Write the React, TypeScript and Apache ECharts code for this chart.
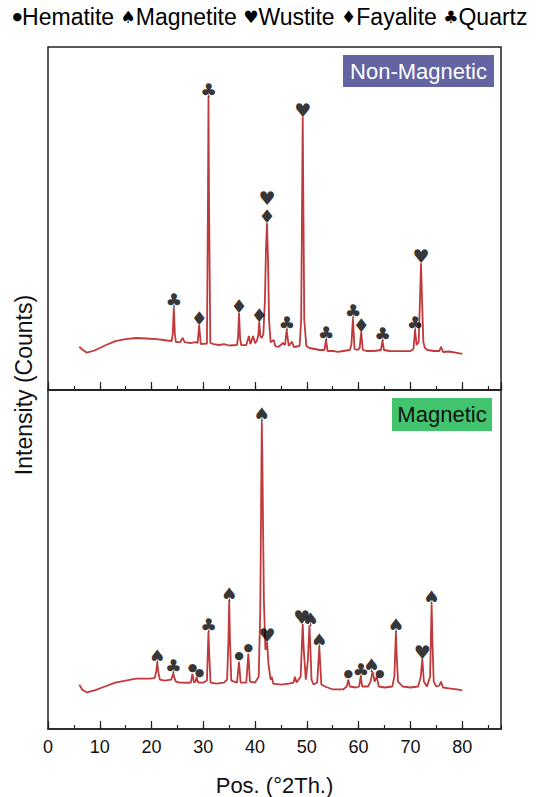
import React, { useEffect, useRef } from "react";
import * as echarts from "echarts";

// 2θ positions of major x ticks
const xTickValues = [0, 10, 20, 30, 40, 50, 60, 70, 80];

// Non-magnetic fraction trace: [2θ, counts]
const nonMagneticTrace: [number, number][] = [
  [6.05, 433], [6.5, 410], [7.5, 373], [9, 395], [11, 445], [13, 488], [15, 508], [17, 520], [19, 515], [21, 508],
  [23, 495], [23.9, 490], [24.1, 560], [24.3, 827], [24.5, 560], [24.7, 480], [25.5, 478], [26.0, 520], [26.4, 478],
  [27.5, 468], [28.5, 478], [28.9, 470], [29.2, 650], [29.5, 460], [30.0, 462], [30.7, 465], [30.9, 1900], [31.0, 2933],
  [31.1, 1900], [31.35, 470], [32, 458], [33, 450], [34, 458], [35, 445], [36.5, 450], [36.7, 520], [36.9, 770],
  [37.1, 520], [37.3, 450], [38.3, 448], [38.8, 540], [39.1, 458], [39.6, 540], [40.0, 468], [40.4, 500], [40.65, 560],
  [40.8, 683], [41.0, 540], [41.3, 520], [41.6, 560], [41.9, 900], [42.1, 1400], [42.3, 1667], [42.5, 1300], [42.7, 700],
  [43.0, 478], [43.6, 500], [43.9, 440], [44.5, 430], [45.4, 470], [45.8, 450], [46.1, 600], [46.5, 440], [47.1, 483],
  [47.5, 430], [48.6, 440], [48.9, 700], [49.05, 1700], [49.2, 2733], [49.35, 1700], [49.5, 700], [49.9, 440],
  [50.5, 420], [51.5, 410], [52.5, 400], [53.4, 400], [53.7, 500], [54.0, 390], [55, 392], [56, 382], [57, 390],
  [58.3, 400], [58.6, 450], [58.9, 717], [59.2, 410], [59.8, 400], [60.2, 420], [60.5, 583], [60.8, 400], [61.5, 390],
  [63, 390], [64.3, 400], [64.6, 490], [64.9, 400], [66, 390], [68, 388], [70, 390], [70.6, 410], [70.9, 600],
  [71.2, 450], [71.6, 480], [71.85, 900], [72.05, 1267], [72.25, 900], [72.5, 480], [72.8, 420], [73.3, 400],
  [74.5, 390], [75.6, 390], [75.9, 433], [76.3, 380], [77.5, 385], [79, 372], [80, 362],
];

// Magnetic fraction trace: [2θ, counts]
const magneticTrace: [number, number][] = [
  [6.05, 447], [6.6, 400], [7.5, 370], [9, 390], [11, 430], [13, 470], [15, 490], [17, 510], [19.7, 510], [20.6, 515],
  [20.9, 580], [21.1, 670], [21.3, 580], [21.6, 500], [22.5, 490], [23.8, 500], [24.0, 530], [24.2, 563], [24.4, 520],
  [24.7, 480], [25.5, 470], [27, 468], [27.6, 470], [27.9, 557], [28.2, 470], [28.5, 480], [28.7, 530], [29.0, 470],
  [30.0, 470], [30.7, 490], [30.85, 750], [31.0, 980], [31.15, 750], [31.4, 470], [32.5, 460], [34, 470], [34.6, 500],
  [34.85, 900], [35.0, 1297], [35.15, 900], [35.4, 490], [36.5, 470], [36.9, 680], [37.2, 470], [38.3, 470],
  [38.7, 763], [39.0, 480], [40.0, 470], [40.7, 530], [41.0, 1200], [41.2, 2500], [41.3, 3113], [41.45, 2500],
  [41.7, 1300], [42.0, 800], [42.3, 880], [42.6, 650], [43.0, 500], [43.2, 530], [43.5, 460], [45, 450], [46.5, 460],
  [47.4, 470], [47.7, 530], [48.0, 470], [48.8, 530], [49.0, 800], [49.2, 1063], [49.4, 800], [49.8, 500], [50.2, 700],
  [50.5, 1047], [50.7, 800], [50.9, 500], [51.3, 450], [52.0, 470], [52.4, 830], [52.8, 450], [53.5, 430], [55, 400],
  [57, 400], [57.7, 430], [58.0, 500], [58.3, 430], [59.5, 420], [60.1, 430], [60.4, 530], [60.7, 430], [61.8, 430],
  [62.3, 480], [62.7, 580], [63.1, 480], [63.5, 530], [63.9, 430], [65, 420], [66.5, 430], [66.9, 530], [67.05, 750],
  [67.2, 980], [67.35, 750], [67.6, 480], [68.5, 430], [70, 420], [71.5, 430], [72.0, 530], [72.3, 713], [72.6, 480],
  [73.2, 430], [73.8, 530], [73.95, 900], [74.1, 1263], [74.25, 900], [74.5, 480], [75.0, 430], [75.6, 440],
  [75.9, 480], [76.3, 420], [77.5, 410], [79, 400], [80, 390],
];

// Phase markers: [2θ, peak counts, glyph]
const nonMagneticPeaks: [number, number, string][] = [
  [24.3, 827, "♣"], [29.2, 650, "♦"], [31.0, 2933, "♣"], [36.9, 770, "♦"], [40.8, 683, "♦"], [42.3, 1667, "♦"],
  [42.3, 1667, "♥"], [46.1, 600, "♣"], [49.2, 2733, "♥"], [53.7, 500, "♣"], [58.9, 717, "♣"], [60.5, 583, "♦"],
  [64.6, 490, "♣"], [70.9, 600, "♣"], [72.05, 1267, "♥"],
];
const magneticPeaks: [number, number, string][] = [
  [21.1, 670, "♠"], [24.2, 563, "♣"], [27.9, 557, "●"], [28.7, 530, "●"], [31.0, 980, "♣"], [35.0, 1297, "♠"],
  [36.9, 680, "●"], [38.7, 763, "●"], [41.3, 3113, "♠"], [42.3, 880, "♥"], [49.2, 1063, "♥"], [50.5, 1047, "♠"],
  [52.4, 830, "♠"], [58.0, 500, "●"], [60.4, 530, "♣"], [62.7, 580, "♠"], [63.5, 530, "●"], [67.2, 980, "♠"],
  [72.3, 713, "♥"], [74.1, 1263, "♠"],
];

const legendEntries = [
  ["●", "Hematite"],
  ["♠", "Magnetite"],
  ["♥", "Wustite"],
  ["♦", "Fayalite"],
  ["♣", "Quartz"],
];

const panelTitles = ["Non-Magnetic", "Magnetic"];

const LINE_COLOR = "#c0393b";
const SANS = "'Liberation Sans', Arial, sans-serif";
const GLYPH_FONT = "'DejaVu Sans', sans-serif";

function markerSeries(peaks: [number, number, string][], panel: number, offsets: Record<number, number[]>) {
  return {
    type: "scatter",
    xAxisIndex: panel * 2,
    yAxisIndex: panel,
    symbol: "circle",
    symbolSize: 1,
    itemStyle: { color: "rgba(0,0,0,0)" },
    silent: true,
    z: 5,
    data: peaks.map((p, i) => {
      const g = p[2];
      const dot = g === "●";
      return {
        value: [p[0], p[1]],
        label: {
          show: true,
          position: "top",
          distance: dot ? 0 : -3,
          formatter: g,
          fontFamily: GLYPH_FONT,
          fontSize: dot ? 11 : 19,
          color: "#000",
          offset: offsets[i] || [0, 0],
        },
      };
    }),
  };
}

export default function App() {
  const ref = useRef<HTMLDivElement>(null);
  useEffect(() => {
    document.body.style.margin = "0";
    if (!ref.current) return;
    const chart = echarts.init(ref.current, undefined, { renderer: "svg" });

    const xMax = 87.5;
    const grids = [
      { left: 48, right: 39, top: 47, height: 343 },
      { left: 48, right: 39, top: 390, height: 343 },
    ];
    const makeX = (gi: number, major: boolean, labels: boolean) => ({
      type: "value",
      gridIndex: gi,
      position: "bottom",
      min: 0,
      max: xMax,
      interval: major ? 10 : 5,
      axisLine: { show: major, onZero: false, lineStyle: { color: "#222", width: 1.5 } },
      axisTick: { show: true, inside: true, length: major ? 8 : 4, lineStyle: { color: "#222", width: 1.2 } },
      axisLabel: {
        show: labels,
        showMaxLabel: false,
        margin: 9,
        fontSize: 18,
        color: "#111",
        fontFamily: SANS,
      },
      splitLine: { show: false },
      ...(labels
        ? {
            name: "Pos. (°2Th.)",
            nameLocation: "middle",
            nameGap: 45,
            nameTextStyle: { fontSize: 22, color: "#111", fontFamily: SANS },
          }
        : {}),
    });

    const legendText = legendEntries
      .map(([g, t]) => `{${g === "●" ? "d" : "g"}|${g}}{t|${t}}`)
      .join("{t| }");

    const option: any = {
      animation: false,
      backgroundColor: "#fff",
      grid: grids.map((g) => ({ ...g, show: true, borderColor: "#222", borderWidth: 1.5, backgroundColor: "transparent" })),
      xAxis: [makeX(0, true, false), makeX(0, false, false), makeX(1, true, true), makeX(1, false, false)],
      yAxis: [0, 1].map((gi) => ({ type: "value", gridIndex: gi, min: 0, max: 3430, show: false })),
      series: [
        {
          type: "line",
          xAxisIndex: 0,
          yAxisIndex: 0,
          data: nonMagneticTrace,
          symbol: "none",
          lineStyle: { color: LINE_COLOR, width: 1.8 },
          z: 3,
        },
        {
          type: "line",
          xAxisIndex: 2,
          yAxisIndex: 1,
          data: magneticTrace,
          symbol: "none",
          lineStyle: { color: LINE_COLOR, width: 1.8 },
          z: 3,
        },
        markerSeries(nonMagneticPeaks, 0, { 6: [0, -18] }),
        markerSeries(magneticPeaks, 1, { 3: [3, 2], 10: [-1, 0], 11: [1, 0], 15: [-1, 0], 16: [3, 3] }),
      ],
      graphic: [
        {
          type: "text",
          left: "center",
          top: 5,
          style: {
            text: legendText,
            rich: {
              g: { fontFamily: GLYPH_FONT, fontSize: 17, fill: "#000" },
              d: { fontFamily: GLYPH_FONT, fontSize: 11, fill: "#000" },
              t: { fontFamily: SANS, fontSize: 23, fill: "#000" },
            },
          },
        },
        {
          type: "text",
          x: 24,
          y: 385,
          rotation: Math.PI / 2,
          style: {
            text: "Intensity (Counts)",
            fontFamily: SANS,
            fontSize: 23,
            fill: "#111",
            align: "center",
            verticalAlign: "middle",
          },
        },
        {
          type: "rect",
          shape: { x: 343, y: 55, width: 151, height: 32 },
          style: { fill: "#6364a2" },
          z: 10,
        },
        {
          type: "text",
          x: 418.5,
          y: 71,
          z: 11,
          style: {
            text: panelTitles[0],
            fontFamily: SANS,
            fontSize: 22,
            fill: "#fff",
            align: "center",
            verticalAlign: "middle",
          },
        },
        {
          type: "rect",
          shape: { x: 392, y: 398, width: 100, height: 33 },
          style: { fill: "#42c46e" },
          z: 10,
        },
        {
          type: "text",
          x: 442,
          y: 414.5,
          z: 11,
          style: {
            text: panelTitles[1],
            fontFamily: SANS,
            fontSize: 22,
            fill: "#111",
            align: "center",
            verticalAlign: "middle",
          },
        },
      ],
    };
    void xTickValues;
    chart.setOption(option);
    return () => chart.dispose();
  }, []);
  return <div ref={ref} style={{ width: 540, height: 797 }} />;
}
